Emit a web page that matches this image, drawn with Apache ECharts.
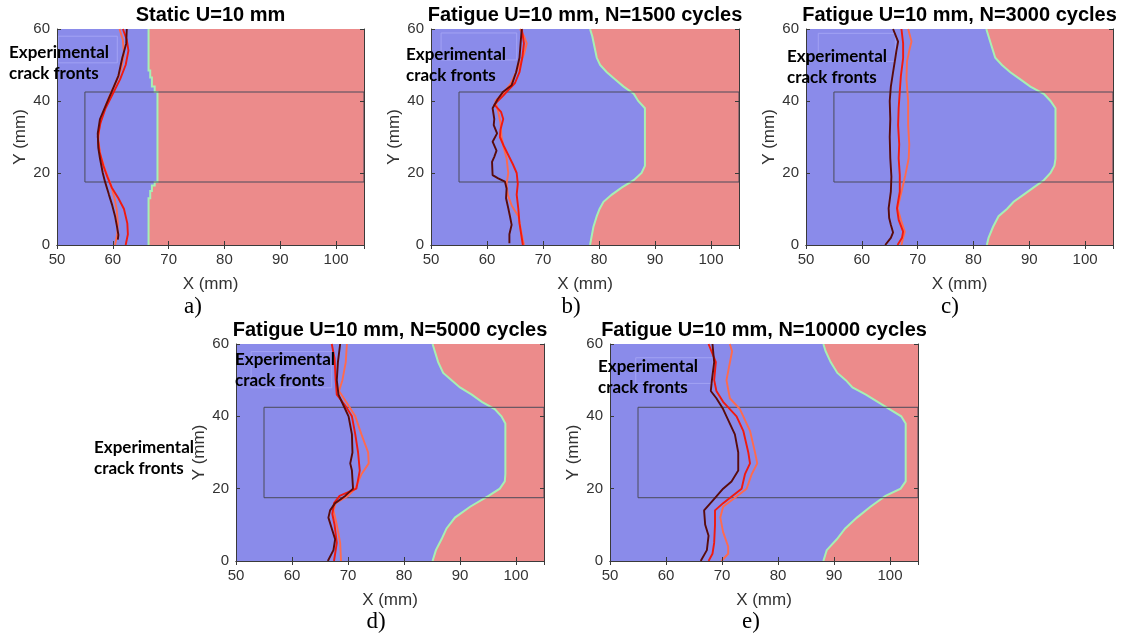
<!DOCTYPE html>
<html>
<head>
<meta charset="utf-8">
<script src="https://cdn.jsdelivr.net/npm/echarts@6/dist/echarts.min.js"></script>
<style>
  html, body { margin: 0; padding: 0; background: #ffffff; }
  #chart { width: 1130px; height: 637px; }
</style>
</head>
<body>
<div id="chart"></div>
<script>
// ---- panel headings, tags and annotation text ----
const panelTitles = [
  'Static U=10 mm',
  'Fatigue U=10 mm, N=1500 cycles',
  'Fatigue U=10 mm, N=3000 cycles',
  'Fatigue U=10 mm, N=5000 cycles',
  'Fatigue U=10 mm, N=10000 cycles'
];
const panelTags = ['a)', 'b)', 'c)', 'd)', 'e)'];
const noteLines = ['Experimental', 'crack fronts'];
const xTickValues = [50, 60, 70, 80, 90, 100];
const yTickValues = [0, 20, 40, 60];

// ---- simulated damage boundary, x (mm) along y (mm) ----
const boundaryA = [[66.4,0],[66.4,13],[66.7,13],[66.7,15],[67.0,15],[67.0,16.5],[67.5,16.5],[67.5,17.5],[68.0,17.5],[68.0,42.5],[67.5,42.5],[67.5,44],[67.0,44],[67.0,46.5],[66.7,46.5],[66.7,48.5],[66.4,48.5],[66.4,60]];
const boundaryB = [[78.4,0],[79.0,5],[79.6,8],[80.1,10],[80.8,12],[82.3,14],[84.1,16],[86.2,18],[87.6,20],[88.2,22],[88.2,38],[87.0,40],[86.2,42],[84.4,44],[82.9,46],[81.4,48],[80.2,50],[79.6,52],[79.2,55],[78.8,58],[78.4,60]];
const boundaryC = [[82.4,0],[82.7,2],[83.5,5],[84.5,8],[86.0,10],[87.2,12],[89.0,14],[90.8,16],[92.6,18],[93.8,20],[94.5,22],[94.7,24],[94.7,38],[93.8,40],[92.6,42],[90.2,44],[88.4,46],[86.6,48],[85.1,50],[83.9,52],[83.3,55],[82.7,58],[82.3,60]];
const boundaryD = [[85.1,0],[85.7,3],[86.7,6],[87.6,9],[89.1,12],[91.8,15],[95.1,18],[97.1,20],[98.0,22],[98.1,24],[98.1,38],[97.4,40],[96.2,42],[93.9,44],[92.1,46],[90.0,48],[88.5,50],[87.0,52],[86.1,55],[85.5,58],[85.1,60]];
const boundaryE = [[88.1,0],[88.7,3],[90.5,6],[92.0,9],[94.1,12],[96.5,15],[99.2,18],[101.9,20],[102.8,22],[102.8,38],[102.0,40],[99.9,42],[97.8,44],[95.7,46],[93.3,48],[92.1,50],[90.6,52],[89.4,55],[88.5,58],[88.1,60]];

// ---- measured crack fronts (three specimens per case) ----
const frontA1 = [[62.5,60],[62.4,56],[61.7,52],[61.0,47],[59.8,42.6],[58.8,39],[57.7,35],[57.3,31],[57.4,27],[57.7,24],[58.2,20],[58.6,17.6],[59.3,14],[59.9,11],[60.4,8],[60.7,5.5],[61.0,2.8],[60.9,1.5]];
const frontA2 = [[61.8,60],[62.5,57],[62.8,54],[62.3,50],[61.3,46],[60.0,42],[58.7,38],[57.8,34],[57.3,30],[57.6,26],[58.3,22],[59.0,19],[59.8,16],[61.0,13],[62.0,10],[62.6,6],[62.7,3],[62.3,0]];
const frontA3 = [[61.2,60],[61.8,57],[62.0,53],[61.5,49],[60.5,45],[59.3,41],[58.3,37],[57.6,33],[57.4,29],[57.8,25],[58.6,21],[59.6,17],[60.3,13],[60.7,10],[60.9,6],[60.8,3],[60.4,0]];

const frontB1 = [[66.2,60],[66.0,56],[65.8,52],[65.2,48],[64.4,44.4],[62.9,42.6],[61.9,40.5],[61.0,38],[61.3,35],[61.2,33.3],[61.8,31],[61.0,28.7],[61.7,26.2],[61.3,24.5],[60.9,23.1],[61.0,19.4],[62.0,18.5],[63.2,17.6],[63.5,15.7],[63.4,13],[63.8,10.2],[64.1,8],[64.4,5.6],[64.0,3],[64.0,0.5]];
const frontB2 = [[66.2,60],[66.6,56],[66.3,52],[65.8,48],[65.0,45],[63.8,43],[62.9,41.5],[61.3,39],[62.5,37],[62.9,35],[62.4,32],[62.3,30],[63.0,27.5],[63.8,25],[64.6,22.5],[65.3,20],[65.5,17],[65.3,14],[65.6,10],[65.8,6],[66.1,3],[66.4,0]];
const frontB3 = [[65.9,60],[66.6,58],[67.1,56],[66.6,53],[65.5,49],[64.3,45],[62.8,42],[61.5,40],[62.0,37],[62.4,34],[62.6,30],[63.0,27],[63.5,24],[63.8,20],[63.5,17],[63.7,14],[64.4,11],[65.6,8],[66.2,3],[66.6,0]];

const frontC1 = [[65.6,60],[66.5,56.5],[66.2,54],[66.0,51.9],[65.6,48],[65.2,44],[65.0,40],[65.1,35],[65.0,30],[65.1,24.1],[65.3,19],[65.2,14.8],[64.8,10.2],[64.9,7.5],[65.2,5.6],[65.6,3.5],[65.2,2],[64.2,0]];
const frontC2 = [[67.1,60],[67.4,56],[67.4,51.9],[67.0,47],[66.8,42.6],[66.6,38],[66.5,33.3],[66.7,28],[66.6,24.1],[66.8,19.4],[66.8,14.8],[66.3,10.2],[66.6,7],[67.4,3.7],[67.2,2],[66.4,0]];
const frontC3 = [[68.3,60],[68.9,56.5],[68.5,54],[68.1,51],[68.0,46],[68.3,40],[68.3,33.3],[68.5,28],[68.4,24.1],[67.8,19.4],[67.1,14.8],[66.4,10.2],[67.0,7],[67.7,3.7],[67.4,2],[67.1,0]];

const frontD1 = [[68.6,60],[68.2,55],[68.0,50],[68.3,46],[69.2,43],[70.1,40],[70.7,35],[70.8,30],[70.4,27],[70.7,25],[70.9,20],[69.5,18],[67.7,16],[66.8,14],[66.5,12],[67.1,9],[67.7,6],[67.4,3],[66.4,0]];
const frontD2 = [[67.1,60],[67.6,56],[67.8,50],[68.0,46],[69.5,43],[70.7,40],[71.3,35],[71.8,30],[72.1,25],[71.5,20],[68.5,18],[67.5,16],[67.2,13],[67.6,10],[68.0,5],[67.5,0]];
const frontD3 = [[69.8,60],[69.6,55],[69.0,50],[68.4,47],[70.1,43],[71.3,40],[72.4,35],[73.6,30],[73.7,27],[72.4,24],[71.3,20],[70.0,18],[67.8,16],[67.4,14],[68.0,10],[68.6,5],[68.75,0]];

const frontE1 = [[68.3,60],[68.6,55],[68.2,50],[68.0,47],[69.0,45],[70.2,42],[70.8,40],[72.3,35],[72.9,30],[72.9,25],[71.7,22],[70.2,20],[68.5,17],[66.8,14],[67.0,10],[67.6,7],[67.3,3],[66.2,0]];
const frontE2 = [[67.6,60],[68.9,55],[68.6,50],[69.0,47],[70.2,44],[72.6,40],[73.8,36],[74.7,30],[75.0,27],[74.1,24],[73.5,20],[70.2,16],[68.75,14],[68.75,10],[68.6,5],[68.3,2],[67.6,0]];
const frontE3 = [[71.4,60],[71.8,58],[70.8,50],[71.4,45],[73.2,42],[73.8,40],[75.0,36],[75.9,30],[76.3,27],[75.3,24],[74.4,20],[71.9,17],[70.2,15],[69.7,12],[70.2,8],[71.1,4],[71.1,2],[69.9,0]];

// ---- refined mesh zone and legend frame corners [x0, y0, x1, y1] ----
const zoneBox = [55, 17.5, 105, 42.5];
const legendBoxA = [50.2, 50.6, 60.8, 58.0];
const legendBoxB = [51.8, 51.4, 65.3, 58.9];
const legendBoxC = [52.2, 51.0, 66.0, 58.8];
const legendBoxD = [52.7, 47.9, 67.1, 57.9];
const legendBoxE = [54.6, 49.1, 68.4, 56.2];

// ---- assemble ----
const boundaries = [boundaryA, boundaryB, boundaryC, boundaryD, boundaryE];
const fronts = [
  [frontA1, frontA2, frontA3],
  [frontB1, frontB2, frontB3],
  [frontC1, frontC2, frontC3],
  [frontD1, frontD2, frontD3],
  [frontE1, frontE2, frontE3]
];
const legendBoxes = [legendBoxA, legendBoxB, legendBoxC, legendBoxD, legendBoxE];

// plot rectangles in px
const layout = [
  { left: 57,  top: 29,  width: 307, height: 216 },
  { left: 431, top: 29,  width: 308, height: 216 },
  { left: 806, top: 29,  width: 307, height: 216 },
  { left: 236, top: 344, width: 308, height: 217 },
  { left: 610, top: 344, width: 308, height: 217 }
];
// annotation anchors
const notePos = [[9, 53], [406, 55], [787, 57], [235, 360], [598, 367], [94, 448]];
const tagPos = [[193, 307], [571, 307], [950, 307], [376, 622], [751, 622]];

const BLUE = '#8a8bea';
const RED = '#ec8b8b';
const EDGE = '#a6f0b4';
const FRONT_COLORS = ['#5a0b0b', '#f21a0e', '#ff6a4e'];
const AXIS_COLOR = '#3a3a3a';
const FONT = 'Liberation Sans, Arial, sans-serif';

function boxPath(b) {
  return [[b[0], b[1]], [b[2], b[1]], [b[2], b[3]], [b[0], b[3]], [b[0], b[1]]];
}

const grids = [], xAxes = [], yAxes = [], series = [], graphics = [];

layout.forEach((g, i) => {
  grids.push({ left: g.left, top: g.top, width: g.width, height: g.height,
    show: true, backgroundColor: RED, borderWidth: 0 });

  const xCommon = { gridIndex: i, type: 'value', min: 50, max: 105, interval: 10, z: 10,
    splitLine: { show: false },
    axisLine: { show: true, lineStyle: { color: AXIS_COLOR, width: 1 } },
    axisTick: { show: true, inside: true, length: 4, lineStyle: { color: AXIS_COLOR } } };
  xAxes.push(Object.assign({}, xCommon, {
    position: 'bottom',
    axisLabel: { show: true, fontSize: 15, color: '#333', margin: 7, fontFamily: FONT,
      showMaxLabel: false, formatter: v => (xTickValues.indexOf(v) >= 0 ? String(v) : '') },
    name: 'X (mm)', nameLocation: 'middle', nameGap: 31,
    nameTextStyle: { fontSize: 17, color: '#333', fontFamily: FONT }
  }));
  xAxes.push(Object.assign({}, xCommon, { position: 'top', axisLabel: { show: false } }));

  const yCommon = { gridIndex: i, type: 'value', min: 0, max: 60, interval: 20, z: 10,
    splitLine: { show: false },
    axisLine: { show: true, lineStyle: { color: AXIS_COLOR, width: 1 } },
    axisTick: { show: true, inside: true, length: 4, lineStyle: { color: AXIS_COLOR } } };
  yAxes.push(Object.assign({}, yCommon, {
    position: 'left',
    axisLabel: { show: true, fontSize: 15, color: '#333', margin: 7, fontFamily: FONT,
      formatter: v => (yTickValues.indexOf(v) >= 0 ? String(v) : '') },
    name: 'Y (mm)', nameLocation: 'middle', nameGap: 28,
    nameTextStyle: { fontSize: 17, color: '#333', fontFamily: FONT }
  }));
  yAxes.push(Object.assign({}, yCommon, { position: 'right', axisLabel: { show: false } }));

  const xi = 2 * i, yi = 2 * i;
  const bnd = boundaries[i];

  // cracked (blue) region left of the damage boundary
  series.push({
    type: 'custom', xAxisIndex: xi, yAxisIndex: yi, clip: true, silent: true, z: 2,
    data: bnd,
    renderItem: function (params, api) {
      if (params.dataIndex !== 0) return null;
      const edge = bnd.map(p => api.coord(p));
      const poly = [api.coord([50, bnd[0][1]])].concat(edge, [api.coord([50, bnd[bnd.length - 1][1]])]);
      return {
        type: 'group',
        children: [
          { type: 'polygon', shape: { points: poly }, style: { fill: BLUE, stroke: null } },
          { type: 'polyline', shape: { points: edge }, style: { fill: null, stroke: EDGE, lineWidth: 2 } }
        ]
      };
    }
  });

  // legend frame
  series.push({
    type: 'line', xAxisIndex: xi, yAxisIndex: yi, data: boxPath(legendBoxes[i]),
    showSymbol: false, silent: true, z: 3,
    lineStyle: { color: '#a2a2f4', width: 1 }
  });

  // refined zone outline
  series.push({
    type: 'line', xAxisIndex: xi, yAxisIndex: yi, data: boxPath(zoneBox),
    showSymbol: false, silent: true, z: 3,
    lineStyle: { color: '#4b4b5a', width: 1 }
  });

  // crack fronts
  fronts[i].forEach((f, k) => {
    series.push({
      type: 'line', xAxisIndex: xi, yAxisIndex: yi, data: f,
      showSymbol: false, silent: true, z: 4 + (2 - k),
      lineStyle: { color: FRONT_COLORS[k], width: 1.9 }
    });
  });

  // heading
  graphics.push({
    type: 'text', x: g.left + g.width / 2, y: g.top - 14,
    style: { text: panelTitles[i], fill: '#000', font: 'bold 20px ' + FONT,
      textAlign: 'center', textVerticalAlign: 'middle' }
  });
  // tag
  graphics.push({
    type: 'text', x: tagPos[i][0], y: tagPos[i][1],
    style: { text: panelTags[i], fill: '#000', font: '23px Liberation Serif, Times New Roman, serif',
      textAlign: 'center', textVerticalAlign: 'middle' }
  });
});

notePos.forEach(p => {
  noteLines.forEach((line, j) => {
    graphics.push({
      type: 'text', x: p[0], y: p[1] + j * 21, z: 20,
      style: { text: line, fill: '#000', font: 'bold 17px Lato, Open Sans, sans-serif',
        textAlign: 'left', textVerticalAlign: 'middle' }
    });
  });
});

const chart = echarts.init(document.getElementById('chart'), null, { renderer: 'canvas' });
chart.setOption({
  animation: false,
  backgroundColor: '#ffffff',
  grid: grids,
  xAxis: xAxes,
  yAxis: yAxes,
  series: series,
  graphic: graphics
});
</script>
</body>
</html>
